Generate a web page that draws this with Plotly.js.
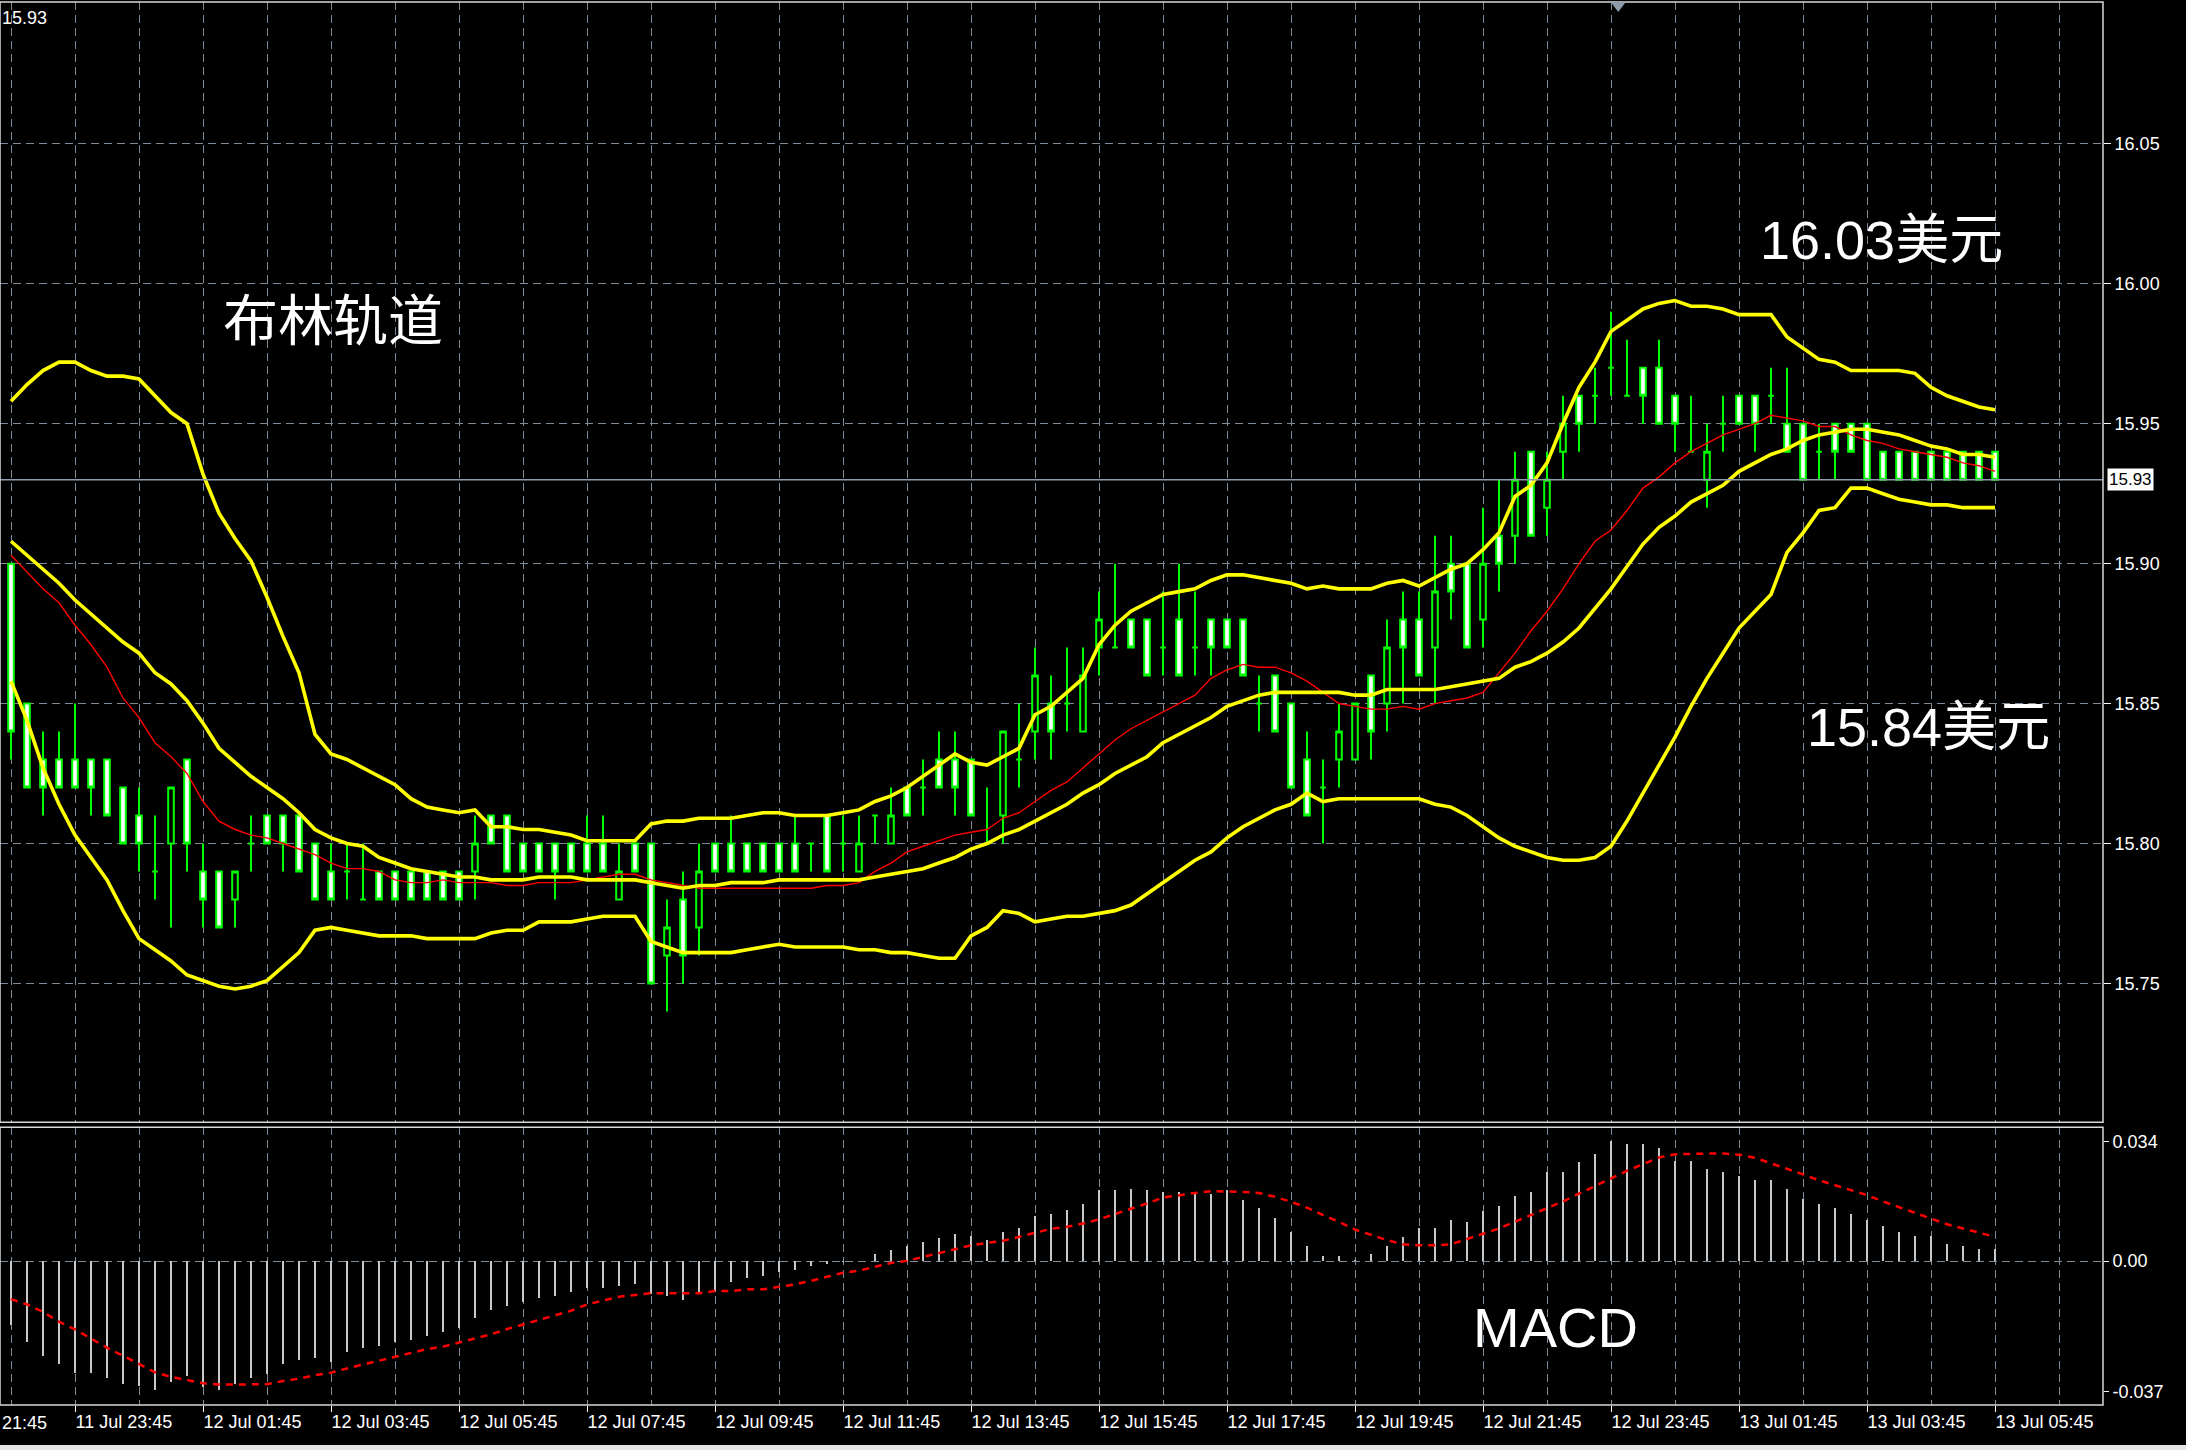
<!DOCTYPE html>
<html>
<head>
<meta charset="utf-8">
<script src="https://cdn.plot.ly/plotly-3.0.1.min.js"></script>
<style>html,body{margin:0;padding:0;background:#000;}#chart{width:2186px;height:1450px;}</style>
</head>
<body>
<div id="chart"></div>
<script>
// ---- OHLC (15-minute bars, 11 Jul 22:45 → 13 Jul 05:45) ----
const open = [
15.90,15.85,15.83,15.83,15.83,15.83,15.83,15.82,15.81,15.79,
15.80,15.83,15.79,15.79,15.78,15.80,15.81,15.81,15.81,15.80,
15.79,15.79,15.78,15.79,15.79,15.79,15.79,15.79,15.79,15.79,
15.81,15.81,15.80,15.80,15.80,15.80,15.80,15.80,15.78,15.80,
15.80,15.76,15.78,15.77,15.80,15.80,15.80,15.80,15.80,15.80,
15.80,15.81,15.80,15.79,15.81,15.80,15.82,15.82,15.83,15.83,
15.83,15.80,15.81,15.83,15.84,15.85,15.85,15.84,15.87,15.87,
15.88,15.88,15.87,15.88,15.87,15.88,15.88,15.88,15.85,15.86,
15.85,15.83,15.82,15.83,15.83,15.86,15.85,15.88,15.88,15.87,
15.90,15.90,15.88,15.91,15.91,15.94,15.92,15.94,15.96,15.96,
15.97,15.96,15.97,15.97,15.96,15.94,15.93,15.95,15.96,15.96,
15.96,15.95,15.95,15.94,15.95,15.95,15.95,15.94,15.94,15.94,
15.94,15.94,15.94,15.94,15.94];
const high = [
15.90,15.85,15.84,15.84,15.85,15.83,15.83,15.82,15.82,15.81,
15.82,15.83,15.80,15.79,15.79,15.81,15.81,15.81,15.81,15.80,
15.80,15.80,15.80,15.79,15.79,15.79,15.79,15.79,15.79,15.81,
15.81,15.81,15.80,15.80,15.80,15.80,15.81,15.81,15.80,15.80,
15.80,15.78,15.79,15.80,15.80,15.81,15.80,15.80,15.80,15.81,
15.80,15.81,15.81,15.81,15.81,15.82,15.82,15.83,15.84,15.84,
15.83,15.82,15.84,15.85,15.87,15.86,15.87,15.87,15.89,15.90,
15.88,15.88,15.89,15.90,15.89,15.88,15.88,15.88,15.86,15.86,
15.85,15.84,15.83,15.85,15.85,15.86,15.88,15.89,15.89,15.91,
15.91,15.90,15.92,15.93,15.94,15.94,15.94,15.96,15.96,15.97,
15.99,15.98,15.97,15.98,15.96,15.96,15.95,15.96,15.96,15.96,
15.97,15.97,15.95,15.95,15.95,15.95,15.95,15.94,15.94,15.94,
15.94,15.94,15.94,15.94,15.94];
const low = [
15.83,15.82,15.81,15.82,15.82,15.81,15.81,15.80,15.79,15.78,
15.77,15.79,15.77,15.77,15.77,15.79,15.80,15.79,15.79,15.78,
15.78,15.78,15.78,15.78,15.78,15.78,15.78,15.78,15.78,15.78,
15.80,15.79,15.79,15.79,15.78,15.79,15.79,15.79,15.78,15.79,
15.75,15.74,15.75,15.76,15.79,15.79,15.79,15.79,15.79,15.79,
15.79,15.79,15.79,15.79,15.80,15.80,15.81,15.81,15.82,15.81,
15.81,15.80,15.80,15.82,15.83,15.83,15.84,15.84,15.86,15.87,
15.87,15.86,15.86,15.86,15.86,15.86,15.87,15.86,15.84,15.84,
15.82,15.81,15.80,15.82,15.83,15.83,15.84,15.85,15.86,15.85,
15.88,15.87,15.87,15.89,15.90,15.91,15.91,15.93,15.94,15.95,
15.96,15.96,15.95,15.95,15.94,15.94,15.92,15.94,15.95,15.94,
15.95,15.94,15.93,15.93,15.93,15.94,15.93,15.93,15.93,15.93,
15.93,15.93,15.93,15.93,15.93];
const close = [
15.84,15.82,15.82,15.82,15.82,15.82,15.81,15.80,15.80,15.79,
15.82,15.80,15.78,15.77,15.79,15.80,15.80,15.80,15.79,15.78,
15.78,15.79,15.78,15.78,15.78,15.78,15.78,15.78,15.78,15.80,
15.80,15.79,15.79,15.79,15.79,15.79,15.79,15.79,15.79,15.79,
15.75,15.77,15.76,15.79,15.79,15.79,15.79,15.79,15.79,15.79,
15.80,15.79,15.80,15.80,15.81,15.81,15.81,15.82,15.82,15.82,
15.81,15.80,15.84,15.83,15.86,15.84,15.85,15.86,15.88,15.87,
15.87,15.86,15.87,15.86,15.87,15.87,15.87,15.86,15.85,15.84,
15.82,15.81,15.82,15.84,15.85,15.84,15.87,15.87,15.86,15.89,
15.89,15.87,15.90,15.90,15.93,15.91,15.93,15.95,15.95,15.96,
15.97,15.96,15.96,15.95,15.95,15.94,15.94,15.95,15.95,15.95,
15.96,15.94,15.93,15.94,15.94,15.94,15.93,15.93,15.93,15.93,
15.93,15.93,15.93,15.93,15.93];

// ---- Bollinger bands ----
const bbUpper = [
15.958,15.964,15.969,15.972,15.972,15.969,15.967,15.967,15.966,15.960,
15.954,15.950,15.932,15.918,15.909,15.901,15.888,15.874,15.861,15.839,
15.832,15.830,15.827,15.824,15.821,15.816,15.813,15.812,15.811,15.812,
15.806,15.806,15.805,15.805,15.804,15.803,15.801,15.801,15.801,15.801,
15.807,15.808,15.808,15.809,15.809,15.809,15.810,15.811,15.811,15.810,
15.810,15.810,15.811,15.812,15.815,15.817,15.820,15.824,15.828,15.832,
15.829,15.828,15.831,15.834,15.846,15.849,15.854,15.859,15.871,15.878,
15.883,15.886,15.889,15.890,15.891,15.894,15.896,15.896,15.895,15.894,
15.893,15.891,15.892,15.891,15.891,15.891,15.893,15.894,15.892,15.895,
15.898,15.900,15.905,15.911,15.924,15.928,15.936,15.950,15.963,15.972,
15.983,15.987,15.991,15.993,15.994,15.992,15.992,15.991,15.989,15.989,
15.989,15.981,15.977,15.973,15.972,15.969,15.969,15.969,15.969,15.968,
15.963,15.960,15.958,15.956,15.955];
const bbMiddle = [
15.908,15.903,15.898,15.893,15.887,15.882,15.877,15.872,15.868,15.861,
15.857,15.851,15.843,15.834,15.829,15.824,15.820,15.816,15.811,15.805,
15.802,15.800,15.799,15.795,15.793,15.791,15.790,15.789,15.788,15.788,
15.787,15.787,15.787,15.788,15.788,15.788,15.787,15.787,15.787,15.787,
15.786,15.785,15.784,15.785,15.785,15.786,15.786,15.786,15.787,15.787,
15.787,15.787,15.787,15.787,15.788,15.789,15.790,15.791,15.793,15.795,
15.798,15.800,15.803,15.805,15.808,15.811,15.814,15.818,15.821,15.825,
15.828,15.831,15.836,15.839,15.842,15.845,15.849,15.851,15.853,15.854,
15.854,15.854,15.854,15.854,15.853,15.853,15.855,15.855,15.855,15.855,
15.856,15.857,15.858,15.859,15.863,15.865,15.868,15.872,15.877,15.884,
15.891,15.899,15.907,15.913,15.917,15.922,15.925,15.928,15.933,15.936,
15.939,15.941,15.944,15.946,15.947,15.948,15.948,15.947,15.946,15.944,
15.942,15.941,15.939,15.939,15.938];
const bbLower = [
15.858,15.844,15.827,15.814,15.803,15.795,15.787,15.776,15.766,15.762,
15.758,15.753,15.751,15.749,15.748,15.749,15.751,15.756,15.761,15.769,
15.770,15.769,15.768,15.767,15.767,15.767,15.766,15.766,15.766,15.766,
15.768,15.769,15.769,15.772,15.772,15.772,15.773,15.774,15.774,15.774,
15.765,15.763,15.761,15.761,15.761,15.761,15.762,15.763,15.764,15.763,
15.763,15.763,15.763,15.762,15.762,15.761,15.761,15.760,15.759,15.759,
15.767,15.770,15.776,15.775,15.772,15.773,15.774,15.774,15.775,15.776,
15.778,15.782,15.786,15.790,15.794,15.797,15.802,15.806,15.809,15.812,
15.814,15.818,15.815,15.816,15.816,15.816,15.816,15.816,15.816,15.814,
15.813,15.810,15.806,15.802,15.799,15.797,15.795,15.794,15.794,15.795,
15.799,15.808,15.818,15.828,15.838,15.849,15.859,15.868,15.877,15.883,
15.889,15.904,15.911,15.919,15.920,15.927,15.927,15.925,15.923,15.922,
15.921,15.921,15.920,15.920,15.920];
// ---- Red moving average ----
const maRed = [
15.903,15.897,15.891,15.886,15.878,15.871,15.863,15.852,15.845,15.836,
15.831,15.825,15.815,15.808,15.805,15.803,15.802,15.800,15.798,15.796,
15.793,15.791,15.791,15.790,15.787,15.786,15.786,15.787,15.786,15.786,
15.786,15.785,15.785,15.786,15.786,15.786,15.787,15.788,15.789,15.789,
15.787,15.786,15.785,15.784,15.784,15.784,15.784,15.784,15.784,15.784,
15.784,15.785,15.785,15.786,15.790,15.793,15.797,15.799,15.801,15.803,
15.804,15.805,15.809,15.811,15.815,15.819,15.822,15.827,15.832,15.837,
15.841,15.844,15.847,15.850,15.853,15.859,15.862,15.864,15.863,15.863,
15.861,15.858,15.854,15.850,15.849,15.848,15.848,15.849,15.848,15.850,
15.851,15.852,15.854,15.861,15.868,15.876,15.883,15.891,15.900,15.908,
15.912,15.919,15.927,15.931,15.936,15.940,15.943,15.946,15.948,15.950,
15.953,15.952,15.951,15.949,15.949,15.946,15.944,15.943,15.941,15.940,
15.939,15.938,15.936,15.935,15.933];

// ---- MACD ----
const macdHist = [
-0.0182,-0.0229,-0.0269,-0.0291,-0.0319,-0.0319,-0.0332,-0.0348,-0.0354,-0.0365,
-0.0343,-0.0327,-0.0357,-0.0365,-0.0348,-0.0332,-0.0321,-0.0291,-0.0281,-0.0275,
-0.0286,-0.0258,-0.0246,-0.0241,-0.0229,-0.0223,-0.0212,-0.0201,-0.0189,-0.0161,
-0.0139,-0.0127,-0.0116,-0.0104,-0.0099,-0.0087,-0.0076,-0.0076,-0.0070,-0.0064,
-0.0092,-0.0099,-0.0111,-0.0094,-0.0087,-0.0059,-0.0047,-0.0042,-0.0030,-0.0026,
-0.0013,-0.0008,-0.0002,0.0001,0.0020,0.0031,0.0043,0.0054,0.0065,0.0077,
0.0071,0.0060,0.0082,0.0095,0.0128,0.0133,0.0145,0.0162,0.0202,0.0202,
0.0206,0.0202,0.0197,0.0197,0.0192,0.0192,0.0202,0.0173,0.0150,0.0123,
0.0083,0.0043,0.0014,0.0014,0.0003,0.0020,0.0043,0.0069,0.0093,0.0093,
0.0116,0.0112,0.0142,0.0158,0.0186,0.0198,0.0255,0.0255,0.0282,0.0305,
0.0341,0.0332,0.0332,0.0322,0.0286,0.0286,0.0263,0.0254,0.0241,0.0230,
0.0230,0.0206,0.0178,0.0164,0.0150,0.0134,0.0117,0.0100,0.0084,0.0071,
0.0071,0.0048,0.0043,0.0036,0.0036];
const macdSignal = [
-0.0108,-0.0123,-0.0144,-0.0172,-0.0194,-0.0220,-0.0246,-0.0269,-0.0293,-0.0316,
-0.0329,-0.0339,-0.0347,-0.0351,-0.0351,-0.0351,-0.0350,-0.0341,-0.0334,-0.0324,
-0.0317,-0.0305,-0.0294,-0.0282,-0.0272,-0.0259,-0.0250,-0.0243,-0.0231,-0.0220,
-0.0208,-0.0193,-0.0180,-0.0165,-0.0152,-0.0141,-0.0123,-0.0111,-0.0101,-0.0096,
-0.0091,-0.0091,-0.0091,-0.0091,-0.0085,-0.0085,-0.0080,-0.0080,-0.0073,-0.0066,
-0.0056,-0.0044,-0.0033,-0.0027,-0.0016,-0.0005,0.0001,0.0012,0.0024,0.0036,
0.0045,0.0052,0.0058,0.0069,0.0080,0.0092,0.0098,0.0107,0.0119,0.0134,
0.0148,0.0164,0.0181,0.0188,0.0194,0.0199,0.0199,0.0197,0.0194,0.0183,
0.0169,0.0152,0.0131,0.0112,0.0090,0.0074,0.0060,0.0048,0.0045,0.0045,
0.0048,0.0063,0.0079,0.0093,0.0112,0.0131,0.0150,0.0170,0.0192,0.0214,
0.0235,0.0257,0.0276,0.0295,0.0304,0.0306,0.0306,0.0306,0.0303,0.0294,
0.0279,0.0263,0.0247,0.0230,0.0216,0.0202,0.0188,0.0170,0.0154,0.0138,
0.0121,0.0105,0.0093,0.0080,0.0069];

// ---- axis ticks ----
const timeTickBars = [4,12,20,28,36,44,52,60,68,76,84,92,100,108,116,124];
const timeTickLabels = ['11 Jul 23:45','12 Jul 01:45','12 Jul 03:45','12 Jul 05:45','12 Jul 07:45',
  '12 Jul 09:45','12 Jul 11:45','12 Jul 13:45','12 Jul 15:45','12 Jul 17:45','12 Jul 19:45',
  '12 Jul 21:45','12 Jul 23:45','13 Jul 01:45','13 Jul 03:45','13 Jul 05:45'];
const priceTicks = [15.75,15.80,15.85,15.90,15.95,16.00,16.05];
const macdTicks = [0.034,0.00,-0.037];
const macdTickLabels = ['0.034','0.00','-0.037'];

const bars = open.map((_, i) => i);
const lastPrice = close[close.length - 1];

const GRID = '#7d8a98';
const GRIDDASH = '8px,5px';
const AXFONT = {family:'Liberation Sans, Arial, sans-serif', size:18, color:'#ffffff'};
const BIG = 'Liberation Sans, Noto Sans CJK SC, sans-serif';

const traces = [
  {type:'candlestick', x:bars, open:open, high:high, low:low, close:close,
   xaxis:'x', yaxis:'y', whiskerwidth:0, hoverinfo:'skip',
   increasing:{line:{color:'#00ff00', width:2}, fillcolor:'#000000'},
   decreasing:{line:{color:'#00ff00', width:2}, fillcolor:'#ffffff'}},
  {type:'scatter', mode:'lines', x:bars, y:maRed, line:{color:'#ff0000', width:1.4}, hoverinfo:'skip', xaxis:'x', yaxis:'y'},
  {type:'scatter', mode:'lines', x:bars, y:bbUpper, line:{color:'#ffff00', width:3.6}, hoverinfo:'skip', xaxis:'x', yaxis:'y'},
  {type:'scatter', mode:'lines', x:bars, y:bbMiddle, line:{color:'#ffff00', width:3.6}, hoverinfo:'skip', xaxis:'x', yaxis:'y'},
  {type:'scatter', mode:'lines', x:bars, y:bbLower, line:{color:'#ffff00', width:3.6}, hoverinfo:'skip', xaxis:'x', yaxis:'y'},
  {type:'bar', x:bars, y:macdHist, width:0.12, marker:{color:'#c8c8c8', line:{width:0}}, hoverinfo:'skip', xaxis:'x', yaxis:'y2'},
  {type:'scatter', mode:'lines', x:bars, y:macdSignal, line:{color:'#ff0000', width:2.5, dash:'7px,6px'}, hoverinfo:'skip', xaxis:'x', yaxis:'y2'}
];

const PLOT_W = 2103, PLOT_H = 1404;
const mainBottom = (1405 - 1122) / PLOT_H;
const macdTop = (1405 - 1127) / PLOT_H;

const layout = {
  width:2186, height:1450,
  margin:{l:0, r:2186 - PLOT_W, t:2, b:45},
  paper_bgcolor:'#000000', plot_bgcolor:'#000000',
  showlegend:false, boxgap:0.5, bargap:0,
  font:AXFONT,
  xaxis:{range:[-0.6875, 130.75], anchor:'y2', tickmode:'array', tickvals:timeTickBars, ticktext:timeTickLabels,
    ticks:'outside', ticklen:6, tickcolor:'#ffffff', tickwidth:1, tickfont:AXFONT, ticklabelposition:'outside right',
    showgrid:true, gridcolor:GRID, griddash:GRIDDASH, gridwidth:1, zeroline:false, showline:false,
    minor:{tickmode:'linear', tick0:0, dtick:4, showgrid:true, gridcolor:GRID, griddash:GRIDDASH, gridwidth:1, ticks:''},
    rangeslider:{visible:false}, fixedrange:true},
  yaxis:{domain:[mainBottom, 1], range:[15.7004, 16.1007], side:'right', anchor:'x',
    tickmode:'array', tickvals:priceTicks, ticktext:priceTicks.map(v => v.toFixed(2)),
    ticks:'outside', ticklen:7, tickcolor:'#ffffff', tickfont:AXFONT,
    showgrid:true, gridcolor:GRID, griddash:GRIDDASH, gridwidth:1, zeroline:false, showline:false, fixedrange:true},
  yaxis2:{domain:[0, macdTop], range:[-0.0409, 0.0381], side:'right', anchor:'x',
    tickmode:'array', tickvals:macdTicks, ticktext:macdTickLabels,
    ticks:'outside', ticklen:5, tickcolor:'#ffffff', tickfont:AXFONT,
    showgrid:false, zeroline:false, showline:false, fixedrange:true,
    minor:{tickmode:'array', tickvals:[0], showgrid:true, gridcolor:GRID, griddash:GRIDDASH, gridwidth:1, ticks:''}},
  shapes:[
    {type:'line', xref:'paper', yref:'y', x0:0, x1:1, y0:lastPrice, y1:lastPrice, line:{color:'#8d9bab', width:1.6}},
    {type:'rect', xref:'paper', yref:'paper', x0:0, x1:1, y0:mainBottom, y1:1, line:{color:'#d8d8d8', width:1.5}},
    {type:'rect', xref:'paper', yref:'paper', x0:0, x1:1, y0:0, y1:macdTop, line:{color:'#d8d8d8', width:1.5}},
    {type:'path', xref:'paper', yref:'paper', path:'M 0.7659 1 L 0.7731 1 L 0.7695 0.9929 Z', fillcolor:'#8d9bab', line:{width:0}},
    {type:'rect', xref:'paper', yref:'paper', x0:0, x1:2186/PLOT_W, y0:-(1450-1405)/PLOT_H, y1:-(1445-1405)/PLOT_H, fillcolor:'#e6e6e6', line:{width:0}}
  ],
  annotations:[
    {xref:'paper', yref:'paper', x:0, y:1, xanchor:'left', yanchor:'top', yshift:-4, showarrow:false, text:lastPrice.toFixed(2), font:AXFONT},
    {xref:'paper', yref:'paper', x:0, y:0, xanchor:'left', yanchor:'middle', yshift:-18, showarrow:false, text:'21:45', font:AXFONT},
    {xref:'paper', yref:'y', x:1, y:lastPrice, xanchor:'left', yanchor:'middle', xshift:4, showarrow:false, text:lastPrice.toFixed(2),
     font:{family:'Liberation Sans, Arial, sans-serif', size:17, color:'#000000'}, bgcolor:'#ffffff', borderpad:1},
    {xref:'paper', yref:'paper', x:333/PLOT_W, y:1-(321-2)/PLOT_H, xanchor:'center', yanchor:'middle', showarrow:false, text:'布林轨道',
     font:{family:BIG, size:55, color:'#ffffff'}},
    {xref:'paper', yref:'paper', x:1881/PLOT_W, y:1-(240-2)/PLOT_H, xanchor:'center', yanchor:'middle', showarrow:false, text:'16.03美元',
     font:{family:BIG, size:54, color:'#ffffff'}},
    {xref:'paper', yref:'paper', x:1928/PLOT_W, y:1-(728-2)/PLOT_H, xanchor:'center', yanchor:'middle', showarrow:false, text:'15.84美元',
     font:{family:BIG, size:54, color:'#ffffff'}},
    {xref:'paper', yref:'paper', x:1555/PLOT_W, y:1-(1328-2)/PLOT_H, xanchor:'center', yanchor:'middle', showarrow:false, text:'MACD',
     font:{family:BIG, size:56, color:'#ffffff'}}
  ]
};

Plotly.newPlot('chart', traces, layout, {staticPlot:true, displayModeBar:false});
</script>
</body>
</html>
